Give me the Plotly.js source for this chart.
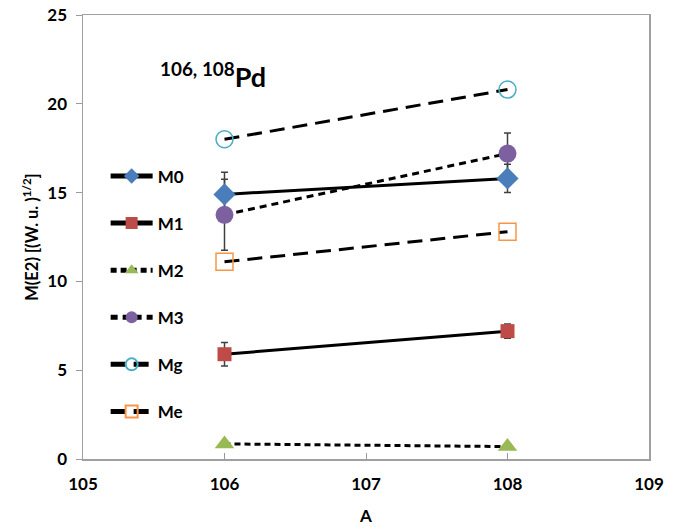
<!DOCTYPE html>
<html>
<head>
<meta charset="utf-8">
<script src="https://cdn.plot.ly/plotly-3.0.1.min.js"></script>
<style>html,body{margin:0;padding:0;background:#fff;}#chart{width:684px;height:527px;}</style>
</head>
<body>
<div id="chart"></div>
<script>
// Data
const massNumbers = [106, 108];
const seriesNames = ["M0", "M1", "M2", "M3", "Mg", "Me"];
const m0 = [14.9, 15.8];
const m0Err = [1.25, 0.8];
const m1 = [5.9, 7.2];
const m1Err = [0.66, 0.4];
const m2 = [0.85, 0.7];
const m3 = [13.75, 17.2];
const m3Err = [2.0, 1.15];
const mg = [18.0, 20.8];
const me = [11.1, 12.8];
const xTickVals = [105, 106, 107, 108, 109];
const yTickVals = [0, 5, 10, 15, 20, 25];
const annotationText = "<sup>106, 108</sup>Pd";
const xTitle = "A";
const yTitle = "M(E2) [(W. u. )<sup>1/2</sup>]";

const FONT = "Lato, 'Open Sans', sans-serif";

function errTrace(y, err) {
  return {
    x: massNumbers, y: y, mode: "markers", showlegend: false, hoverinfo: "skip",
    marker: {color: "rgba(0,0,0,0)", size: 2},
    error_y: {type: "data", array: err, visible: true, color: "#404040", thickness: 1.5, width: 3.5}
  };
}

function series(name, y, dash, marker) {
  return {
    x: massNumbers, y: y, name: name, legendgroup: name, mode: "lines+markers",
    line: {color: "#000000", width: 3, dash: dash},
    marker: marker
  };
}

const traces = [
  errTrace(m0, m0Err),
  errTrace(m1, m1Err),
  errTrace(m3, m3Err),
  series(seriesNames[0], m0, "solid", {symbol: "diamond", size: 17, color: "#4A7EBB"}),
  series(seriesNames[1], m1, "solid", {symbol: "square", size: 14, color: "#BE4B48"}),
  series(seriesNames[2], m2, "6px,4px", {symbol: "triangle-up", size: 17, color: "#98B954"}),
  series(seriesNames[3], m3, "7px,5px", {symbol: "circle", size: 18, color: "#7D60A0"}),
  series(seriesNames[4], mg, "15px,8px", {symbol: "circle-open", size: 17, color: "#4BACC6", line: {width: 1.5}}),
  series(seriesNames[5], me, "15px,8px", {symbol: "square-open", size: 17, color: "#F79646", line: {width: 1.5}})
];

const layout = {
  width: 684, height: 527,
  margin: {l: 83, r: 35, t: 15, b: 68},
  paper_bgcolor: "#ffffff", plot_bgcolor: "#ffffff",
  font: {family: FONT, size: 15, color: "#000000", weight: "bold"},
  showlegend: true,
  legend: {
    x: 0.04, y: 0.677, xanchor: "left", yanchor: "top",
    bgcolor: "rgba(0,0,0,0)", traceorder: "grouped", tracegroupgap: 22,
    itemwidth: 42,
    font: {family: FONT, size: 17, weight: "bold"}, itemsizing: "constant"
  },
  xaxis: {
    range: [105, 109], tickvals: xTickVals, ticks: "inside", ticklen: 6, tickcolor: "#999999",
    showline: true, linecolor: "#A0A0A0", linewidth: 1.5, mirror: true, showgrid: false, zeroline: false,
    tickfont: {family: FONT, size: 17, weight: "bold"}, ticklabelstandoff: 9,
    title: {text: xTitle, font: {family: FONT, size: 17, weight: "bold"}, standoff: 17}
  },
  yaxis: {
    range: [0, 25], tickvals: yTickVals, ticks: "outside", ticklen: 6, tickcolor: "#999999",
    showline: true, linecolor: "#A0A0A0", linewidth: 1.5, mirror: true, showgrid: false, zeroline: false,
    tickfont: {family: FONT, size: 17, weight: "bold"}, ticklabelstandoff: 5,
    title: {text: yTitle, font: {family: FONT, size: 16.5, weight: "bold"}, standoff: 4}
  },
  annotations: [{
    x: 105.92, y: 21.6, xref: "x", yref: "y", text: annotationText, showarrow: false,
    font: {family: FONT, size: 27, weight: "bold"}, xanchor: "center", yanchor: "middle"
  }]
};

Plotly.newPlot("chart", traces, layout, {displayModeBar: false, staticPlot: true});
</script>
</body>
</html>
